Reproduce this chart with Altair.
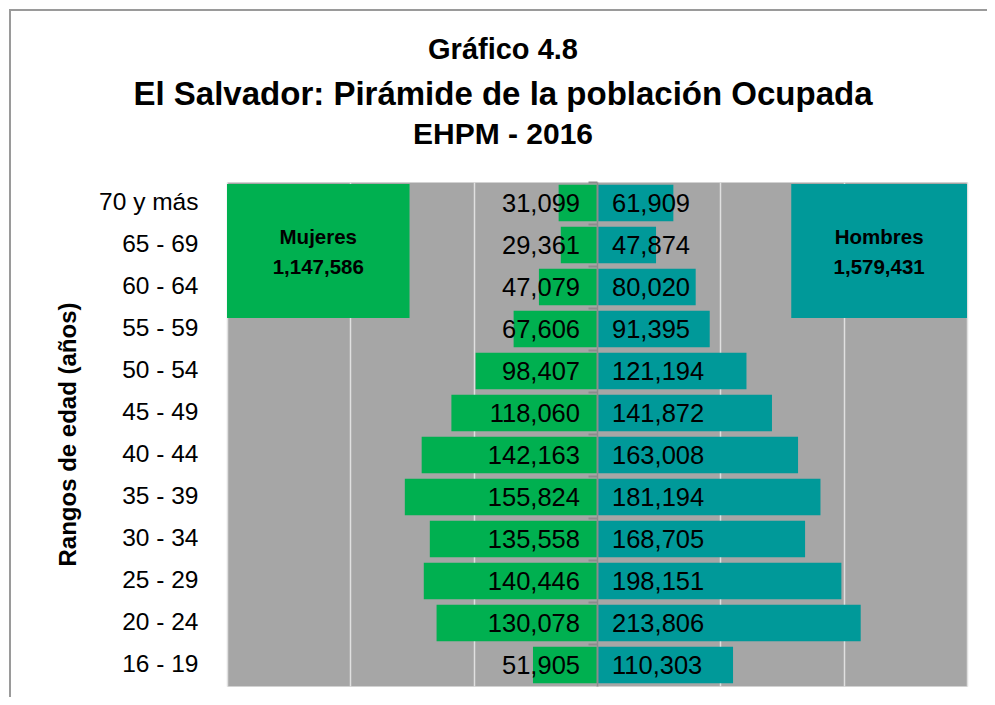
import altair as alt
import pandas as pd

# ---------------- data ----------------
ages = ["70 y más", "65 - 69", "60 - 64", "55 - 59", "50 - 54", "45 - 49",
        "40 - 44", "35 - 39", "30 - 34", "25 - 29", "20 - 24", "16 - 19"]
mujeres = [31099, 29361, 47079, 67606, 98407, 118060,
           142163, 155824, 135558, 140446, 130078, 51905]
hombres = [61909, 47874, 80020, 91395, 121194, 141872,
           163008, 181194, 168705, 198151, 213806, 110303]
sexes = ["Mujeres", "Hombres"]
x_ticks = [-300000, -200000, -100000, 0, 100000, 200000, 300000]
title_lines = ["Gráfico 4.8",
               "El Salvador: Pirámide de la población Ocupada",
               "EHPM - 2016"]
y_title = "Rangos de edad (años)"

# ---------------- styles / layout ----------------
colors = ["#00B050", "#009999"]
FONT = "Liberation Sans, Arial, sans-serif"
W, H = 740, 504
# legend text boxes (x extents in data units)
box_left = [-300000, -152000]
box_right = [157500, 300000]
# title layout (pixels relative to plot area)
title_x = 276
title_y = [-123, -77, -38]
title_size = [29, 33, 30]

rows = []
for a, m, h in zip(ages, mujeres, hombres):
    rows.append({"edad": a, "sexo": "Mujeres", "valor": m, "pos": -m, "zero": 0})
    rows.append({"edad": a, "sexo": "Hombres", "valor": h, "pos": h, "zero": 0})
df = pd.DataFrame(rows)

boxes = pd.DataFrame({
    "sexo": sexes,
    "x1": [box_left[0], box_right[0]],
    "x2": [box_left[1], box_right[1]],
    "cx": [(box_left[0] + box_left[1]) / 2, (box_right[0] + box_right[1]) / 2],
    "total": [f"{sum(mujeres):,}", f"{sum(hombres):,}"],
})

xscale = alt.Scale(domain=[-300000, 300000], nice=False)
xaxis = alt.Axis(values=x_ticks, labels=False, ticks=False, domain=False,
                 grid=True, gridColor="#E0E0E0", gridWidth=1.5, title=None)
yscale = alt.Scale(domain=ages, paddingInner=0.13, paddingOuter=0.065)
color = alt.Color("sexo:N", scale=alt.Scale(domain=sexes, range=colors), legend=None)

y_main = alt.Y("edad:N", sort=ages, scale=yscale,
               axis=alt.Axis(orient="left", title=y_title, labelFont=FONT,
                             labelFontSize=24.5, labelColor="black", labelPadding=29,
                             ticks=False, domain=False, grid=False,
                             titleFont=FONT, titleFontSize=24, titleFontWeight="bold",
                             titleColor="black", titleX=-159, titleY=H / 2,
                             titleAlign="center", titleBaseline="middle", titleAngle=270))
y_center = alt.Y("edad:N", sort=ages, scale=yscale,
                 axis=alt.Axis(orient="left", offset=-W / 2, labels=False, title=None,
                               grid=False, domain=True, domainColor="#8C8C8C",
                               domainWidth=2, ticks=True, tickSize=9,
                               tickColor="#8C8C8C", tickWidth=2, bandPosition=0,
                               tickOffset=-2.7, zindex=1))
y_none = alt.Y("edad:N", sort=ages, scale=yscale, axis=None)

base = alt.Chart(df)

bars = base.mark_bar().encode(
    x=alt.X("pos:Q", scale=xscale, axis=xaxis),
    y=y_main,
    color=color,
)

text_m = base.transform_filter(alt.datum.sexo == "Mujeres").mark_text(
    align="right", baseline="middle", dx=-17, dy=1, font=FONT, fontSize=25.5, color="black"
).encode(
    x=alt.X("zero:Q", scale=xscale, axis=xaxis),
    y=y_center,
    text=alt.Text("valor:Q", format=",d"),
)

text_h = base.transform_filter(alt.datum.sexo == "Hombres").mark_text(
    align="left", baseline="middle", dx=15, dy=1, font=FONT, fontSize=25.5, color="black"
).encode(
    x=alt.X("zero:Q", scale=xscale, axis=xaxis),
    y=y_none,
    text=alt.Text("valor:Q", format=",d"),
)

bx = alt.Chart(boxes)
box_rect = bx.mark_rect().encode(
    x=alt.X("x1:Q", scale=xscale, axis=xaxis),
    x2="x2:Q",
    y=alt.value(2),
    y2=alt.value(136),
    color=color,
)
box_name = bx.mark_text(font=FONT, fontSize=20.5, fontWeight="bold", color="black",
                        baseline="middle").encode(
    x=alt.X("cx:Q", scale=xscale, axis=xaxis),
    y=alt.value(56),
    text="sexo:N",
)
box_total = bx.mark_text(font=FONT, fontSize=20.5, fontWeight="bold", color="black",
                         baseline="middle").encode(
    x=alt.X("cx:Q", scale=xscale, axis=xaxis),
    y=alt.value(86),
    text="total:N",
)

one = alt.Chart(pd.DataFrame({"k": [0]}))
frame_v = one.mark_rule(color="#9A9A9A", strokeWidth=2).encode(
    x=alt.value(-217), y=alt.value(-172), y2=alt.value(530))
frame_h = one.mark_rule(color="#9A9A9A", strokeWidth=2).encode(
    x=alt.value(-218), x2=alt.value(780), y=alt.value(-172))

title_layers = [
    one.mark_text(font=FONT, fontSize=s, fontWeight="bold", color="black",
                  align="center", baseline="alphabetic", text=t).encode(
        x=alt.value(title_x), y=alt.value(ty))
    for t, ty, s in zip(title_lines, title_y, title_size)
]

chart = alt.layer(
    bars, text_m, text_h, box_rect, box_name, box_total, frame_v, frame_h,
    *title_layers
).resolve_axis(y="independent").properties(
    width=W, height=H,
    padding={"left": 219, "top": 174, "right": 20, "bottom": 11},
    autosize=alt.AutoSizeParams(type="none"),
    background="white",
).configure_view(fill="#A6A6A6", stroke="transparent")

chart.save("out.html", embed_options={"renderer": "svg", "actions": False})
